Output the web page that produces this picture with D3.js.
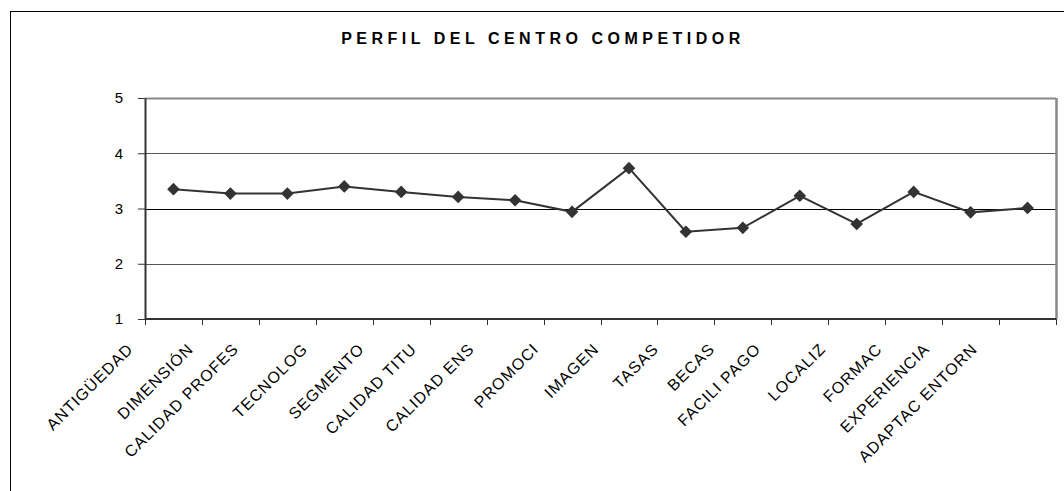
<!DOCTYPE html>
<html>
<head>
<meta charset="utf-8">
<script src="https://cdn.jsdelivr.net/npm/d3@7"></script>
<style>
  body { margin: 0; background: #fff; }
  text { font-family: "Liberation Sans", Arial, sans-serif; fill: #000; }
</style>
</head>
<body>
<div id="chart"></div>
<script>
// ---- data ----
var categories = ["ANTIGÜEDAD", "DIMENSIÓN", "CALIDAD PROFES", "TECNOLOG", "SEGMENTO",
    "CALIDAD TITU", "CALIDAD ENS", "PROMOCI", "IMAGEN", "TASAS", "BECAS",
    "FACILI PAGO", "LOCALIZ", "FORMAC", "EXPERIENCIA", "ADAPTAC ENTORN"];
var values = [3.35, 3.27, 3.27, 3.40, 3.30, 3.21, 3.15, 2.94, 3.73, 2.58, 2.65,
    3.23, 2.72, 3.30, 2.93, 3.01];
var yTicks = [1, 2, 3, 4, 5];
var title = "PERFIL DEL CENTRO COMPETIDOR";

// ---- layout ----
var W = 1064, H = 491;
var margin = { left: 145, right: 8, top: 98, bottom: 172 };
var width = W - margin.left - margin.right;
var height = H - margin.top - margin.bottom;

var svg = d3.select("#chart").append("svg")
    .attr("width", W)
    .attr("height", H);

svg.append("rect")
    .attr("width", W).attr("height", H)
    .attr("fill", "#fff");

// outer chart border
svg.append("rect")
    .attr("x", 10.5).attr("y", 11.5)
    .attr("width", W).attr("height", H)
    .attr("fill", "none")
    .attr("stroke", "#000")
    .attr("stroke-width", 1);

svg.append("text")
    .attr("x", 543)
    .attr("y", 44)
    .attr("text-anchor", "middle")
    .attr("font-size", "16px")
    .attr("font-weight", "bold")
    .attr("letter-spacing", "4.5px")
    .text(title);

var g = svg.append("g")
    .attr("transform", "translate(" + margin.left + "," + margin.top + ")");

// scales
var x = d3.scaleBand().domain(categories).range([0, width]);
var y = d3.scaleLinear().domain([1, 5]).range([height, 0]);

// gridlines
g.selectAll(".grid")
    .data(yTicks.filter(function(d) { return d > 1; }))
    .enter().append("line")
    .attr("class", "grid")
    .attr("x1", 0).attr("x2", width)
    .attr("y1", function(d) { return Math.round(y(d)) + 0.5; })
    .attr("y2", function(d) { return Math.round(y(d)) + 0.5; })
    .attr("stroke", function(d) { return d === 5 ? "#888" : (d === 3 ? "#000" : "#555"); })
    .attr("stroke-width", function(d) { return d === 5 ? 2 : 1; });

// plot area right border
g.append("line")
    .attr("x1", width + 0.5).attr("x2", width + 0.5)
    .attr("y1", y(5)).attr("y2", y(1))
    .attr("stroke", "#888")
    .attr("stroke-width", 2.5);

// y axis
var yAxis = g.append("g")
    .call(d3.axisLeft(y).tickValues(yTicks).tickFormat(d3.format("d"))
        .tickSize(7).tickSizeOuter(0).tickPadding(15));
yAxis.select(".domain").attr("stroke", "#333").attr("stroke-width", 2);
yAxis.selectAll(".tick line").attr("stroke", "#333");
yAxis.selectAll("text")
    .attr("font-size", "15px")
    .attr("font-family", "Liberation Sans, Arial, sans-serif")
    .attr("fill", "#000");

// x axis: ticks at category boundaries
var bounds = categories.map(function(c) { return x(c); }).concat([width]);
var xAxis = g.append("g")
    .attr("transform", "translate(0," + height + ")");
xAxis.append("line")
    .attr("x1", 0).attr("x2", width)
    .attr("y1", 0).attr("y2", 0)
    .attr("stroke", "#333").attr("stroke-width", 2);
xAxis.selectAll(".xtick")
    .data(bounds)
    .enter().append("line")
    .attr("class", "xtick")
    .attr("x1", function(d) { return Math.round(d) + 0.5; })
    .attr("x2", function(d) { return Math.round(d) + 0.5; })
    .attr("y1", 0).attr("y2", 6)
    .attr("stroke", "#333");

// rotated category labels
xAxis.selectAll(".xlabel")
    .data(categories)
    .enter().append("text")
    .attr("class", "xlabel")
    .attr("font-size", "16px")
    .attr("letter-spacing", "1px")
    .attr("text-anchor", "end")
    .text(function(d) { return d; })
    .each(function(d) {
        var w = this.getComputedTextLength();
        var px = x(d) + x.bandwidth() / 2 - (14 + 0.22 * w);
        var py = 31;
        d3.select(this).attr("transform", "translate(" + px + "," + py + ") rotate(-45)");
    });

// line
var line = d3.line()
    .x(function(d, i) { return x(categories[i]) + x.bandwidth() / 2; })
    .y(function(d) { return y(d); });

g.append("path")
    .datum(values)
    .attr("d", line)
    .attr("fill", "none")
    .attr("stroke", "#333")
    .attr("stroke-width", 2);

// diamond markers
g.selectAll(".pt")
    .data(values)
    .enter().append("path")
    .attr("class", "pt")
    .attr("d", d3.symbol().type(d3.symbolSquare).size(80))
    .attr("transform", function(d, i) {
        return "translate(" + (x(categories[i]) + x.bandwidth() / 2) + "," + y(d) + ") rotate(45)";
    })
    .attr("fill", "#333");
</script>
</body>
</html>
